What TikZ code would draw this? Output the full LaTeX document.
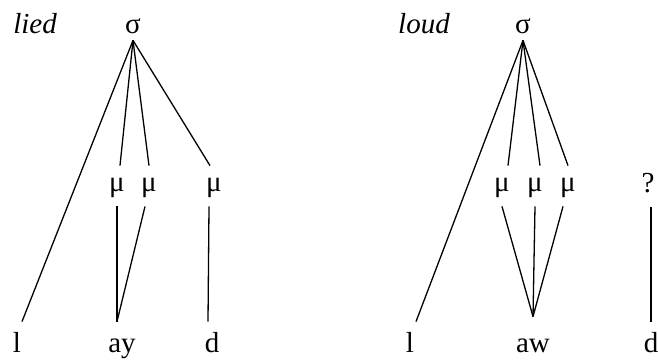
\documentclass[tikz,border=0pt]{standalone}
\usepackage{fontspec}
\setmainfont{Liberation Serif}
\usepackage{tikz}
\tikzset{
  seg/.style={font=\fontsize{14.5}{17}\selectfont, inner sep=0pt, anchor=base},
  sylnode/.style={seg, text depth=0pt, inner ysep=3.5pt},
  moranode/.style={seg, text height=8.5pt, text depth=3.5pt, inner ysep=4pt},
  segnode/.style={seg, text height=11pt, text depth=0pt, inner ysep=4pt},
  wordlbl/.style={seg, font=\fontsize{14.5}{17}\selectfont\itshape},
  assoc/.style={black, line width=0.65pt},
}

\begin{document}
\begin{tikzpicture}[x=0.5pt,y=-0.5pt]
  \useasboundingbox (0,0) rectangle (658,360);

  % lied
  \node[wordlbl] (w1) at (35,33) {lied};
  \node[sylnode] (s1) at (133,33) {σ};
  \node[moranode] (m1) at (117,191) {μ};
  \node[moranode] (m2) at (149,191) {μ};
  \node[moranode] (m3) at (214,191) {μ};
  \node[segnode] (l1) at (17,352) {l};
  \node[segnode] (ay) at (122,352) {ay};
  \node[segnode] (d1) at (212,352) {d};

  \draw[assoc] (s1.south) -- ([xshift=2.5pt]l1.north);
  \draw[assoc] (s1.south) -- ([xshift=1.5pt]m1.north);
  \draw[assoc] (s1.south) -- (m2.north);
  \draw[assoc] (s1.south) -- ([xshift=-2pt]m3.north);
  \draw[assoc] (m1.south) -- ([xshift=-2.5pt]ay.north);
  \draw[assoc] ([xshift=-2pt]m2.south) -- ([xshift=-2.5pt]ay.north);
  \draw[assoc] ([xshift=-2.5pt]m3.south) -- ([xshift=-2pt]d1.north);

  % loud
  \node[wordlbl] (w2) at (424,33) {loud};
  \node[sylnode] (s2) at (523,33) {σ};
  \node[moranode] (m4) at (502,191) {μ};
  \node[moranode] (m5) at (535,191) {μ};
  \node[moranode] (m6) at (568,191) {μ};
  \node[moranode] (q) at (648,192) {?};
  \node[segnode] (l2) at (410,352) {l};
  \node[segnode] (aw) at (533,352) {aw};
  \node[segnode] (d2) at (651,352) {d};

  \draw[assoc] (s2.south) -- ([xshift=3pt]l2.north);
  \draw[assoc] (s2.south) -- ([xshift=3pt]m4.north);
  \draw[assoc] (s2.south) -- ([xshift=2.5pt]m5.north);
  \draw[assoc] (s2.south) -- (m6.north);
  \draw[assoc] (m4.south) -- ([yshift=2.5pt]aw.north);
  \draw[assoc] (m5.south) -- ([yshift=2.5pt]aw.north);
  \draw[assoc] ([xshift=-2.5pt]m6.south) -- ([yshift=2.5pt]aw.north);
  \draw[assoc] ([xshift=1.5pt]q.south) -- (d2.north);
\end{tikzpicture}
\end{document}
